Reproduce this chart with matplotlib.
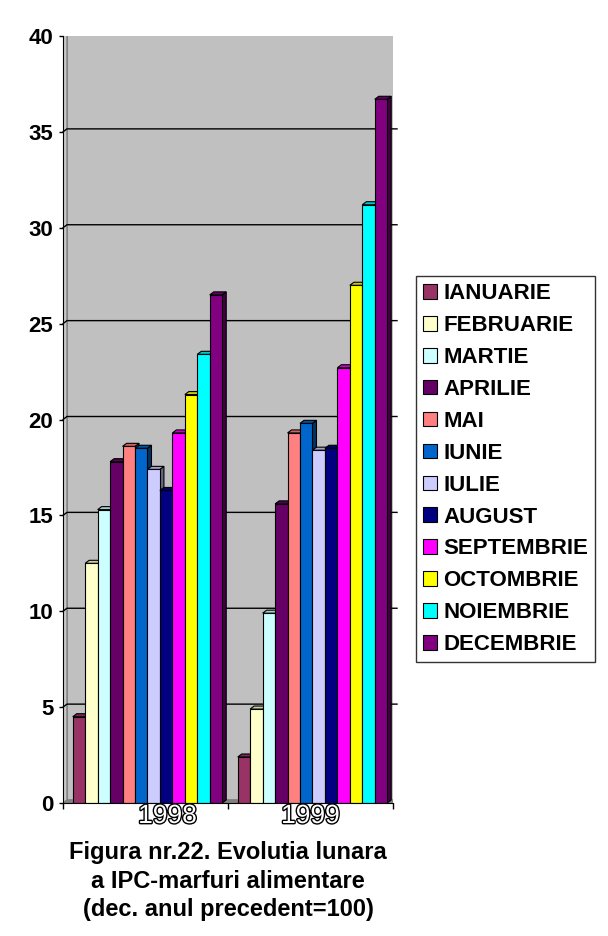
import matplotlib
matplotlib.use("Agg")
import matplotlib.pyplot as plt
import matplotlib.patheffects as pe
from matplotlib.patches import Patch, Polygon, Rectangle
from matplotlib.transforms import ScaledTranslation, blended_transform_factory

# data
years = ["1998", "1999"]
months = ["IANUARIE", "FEBRUARIE", "MARTIE", "APRILIE", "MAI", "IUNIE",
          "IULIE", "AUGUST", "SEPTEMBRIE", "OCTOMBRIE", "NOIEMBRIE", "DECEMBRIE"]
values_1998 = [4.5, 12.5, 15.3, 17.8, 18.6, 18.5, 17.4, 16.3, 19.3, 21.3, 23.4, 26.5]
values_1999 = [2.4, 4.9, 9.9, 15.6, 19.3, 19.8, 18.4, 18.5, 22.7, 27.0, 31.2, 36.7]
month_colors = ["#993366", "#FFFFCC", "#CCFFFF", "#660066", "#FF8080", "#0066CC",
                "#CCCCFF", "#000080", "#FF00FF", "#FFFF00", "#00FFFF", "#800080"]
yticks = [0, 5, 10, 15, 20, 25, 30, 35, 40]
title = "Figura nr.22. Evolutia lunara\na IPC-marfuri alimentare\n(dec. anul precedent=100)"

plt.rcParams['font.family'] = ['Liberation Sans', 'DejaVu Sans']
plt.rcParams['font.weight'] = 'bold'

W, H = 608, 936
fig = plt.figure(figsize=(W / 100, H / 100), dpi=100)
fig.patch.set_facecolor("white")

# front plane of the plot area in pixels
x0, x1, ytop, ybot = 63, 393, 36, 803
ax = fig.add_axes([x0 / W, 1 - ybot / H, (x1 - x0) / W, (ybot - ytop) / H])
ax.set_xlim(0, len(years))
ax.set_ylim(0, 40)
ax.patch.set_visible(False)

# 3d depth (pixels) -> axes fraction / data units
dpx, dpy = 4, 3
dxa, dya = dpx / (x1 - x0), dpy / (ybot - ytop)
dxd = dxa * len(years)
dyd = dya * 40

# walls
ax.add_patch(Rectangle((dxa, dya), 1, 1, transform=ax.transAxes,
                       facecolor="#C0C0C0", edgecolor="#808080", lw=1.2, zorder=0))
ax.add_patch(Polygon([(0, 0), (dxa, dya), (dxa, 1 + dya), (0, 1)], transform=ax.transAxes,
                     facecolor="#C8C8C8", edgecolor="#808080", lw=1, zorder=0.5))
ax.add_patch(Polygon([(0, 0), (dxa, dya), (1 + dxa, dya), (1, 0)], transform=ax.transAxes,
                     facecolor="#808080", edgecolor="#808080", lw=0.5, zorder=0.5))

# gridlines on the back wall
for v in yticks[1:-1]:
    f = v / 40
    ax.plot([0, dxa, 1 + dxa], [f, f + dya, f + dya], transform=ax.transAxes,
            color="black", lw=1, zorder=1, clip_on=False)


def shade(c, k):
    r, g, b = matplotlib.colors.to_rgb(c)
    return (r * k, g * k, b * k)


bw = 0.0755
start = 0.059
for gi, vals in enumerate([values_1998, values_1999]):
    for i, (v, c) in enumerate(zip(vals, month_colors)):
        left = gi + start + i * bw
        ax.bar(left, v, width=bw, align="edge", color=c, edgecolor="black",
               lw=0.8, zorder=3 + i * 0.01)
        ax.add_patch(Polygon([(left, v), (left + dxd, v + dyd), (left + bw + dxd, v + dyd),
                              (left + bw, v)], facecolor=shade(c, 0.8), edgecolor="black",
                             lw=0.8, zorder=3 + i * 0.01))
        ax.add_patch(Polygon([(left + bw, 0), (left + bw + dxd, dyd), (left + bw + dxd, v + dyd),
                              (left + bw, v)], facecolor=shade(c, 0.5), edgecolor="black",
                             lw=0.8, zorder=3 + i * 0.01 - 0.005))

# axes lines and ticks
for s in ["top", "right"]:
    ax.spines[s].set_visible(False)
ax.spines["left"].set_zorder(5)
ax.spines["bottom"].set_zorder(5)
ax.set_yticks(yticks)
ax.set_yticklabels([str(t) for t in yticks], fontsize=16, fontweight="heavy")
ax.tick_params(axis="y", direction="out", length=3, width=1, pad=4)
ax.set_xticks(range(len(years) + 1))
ax.set_xticklabels([])
ax.tick_params(axis="x", direction="out", length=4, width=1)

# year labels, outlined
trans = blended_transform_factory(ax.transData, ax.transAxes)
label_shift = {"1998": 22, "1999": 0}
for gi, yr in enumerate(years):
    t = ax.text(gi + 0.5, 0, yr, transform=trans + ScaledTranslation(label_shift[yr] / 100, -1 / 100, fig.dpi_scale_trans),
                ha="center", va="top", fontsize=19, fontweight="normal",
                family=["Liberation Sans Narrow", "Liberation Sans"], color="white")
    t.set_path_effects([pe.withStroke(linewidth=2, foreground="black")])

# legend
handles = [Patch(facecolor=c, edgecolor="black", lw=0.8) for c in month_colors]
leg = fig.legend(handles, months, loc="upper left", bbox_to_anchor=(416 / W, 1 - 276 / H),
                 frameon=True, fancybox=False, prop={"size": 16, "weight": "bold"},
                 handlelength=0.63, handleheight=0.63, handletextpad=0.26,
                 labelspacing=0.49, borderpad=0.33, borderaxespad=0)
leg.get_frame().set_edgecolor("black")
leg.get_frame().set_linewidth(1)

# caption
fig.text(228 / W, 1 - 881 / H, title, ha="center", va="center", fontsize=17,
         fontweight="bold", linespacing=1.3)

fig.savefig("out.png", dpi=100)
